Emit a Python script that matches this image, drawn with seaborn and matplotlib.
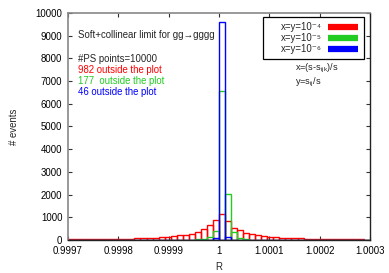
import numpy as np
import pandas as pd
import matplotlib
matplotlib.use("Agg")
import matplotlib.pyplot as plt
import seaborn as sns
from matplotlib.lines import Line2D
from matplotlib.patches import Rectangle

# ---- data ----
bin_lo = 0.9997
bin_width = 1.2e-5
n_bins = 50

red_counts = [25, 30, 30, 35, 35, 40, 40, 45, 50, 55,
              65, 70, 80, 90, 110, 120, 140, 170, 205, 230,
              280, 345, 470, 660, 890, 1145, 840, 550, 440, 320,
              265, 210, 175, 145, 120, 110, 100, 90, 85, 60,
              50, 45, 40, 35, 35, 30, 30, 25, 25, 20]
green_counts = [0, 0, 0, 0, 0, 0, 0, 0, 0, 0,
                0, 0, 0, 0, 0, 5, 5, 5, 10, 10,
                15, 25, 50, 130, 400, 6560, 2030, 340, 80, 40,
                20, 10, 10, 5, 5, 0, 0, 0, 0, 0,
                0, 0, 0, 0, 0, 0, 0, 0, 0, 0]
blue_counts = [0] * 23 + [20, 110, 9600, 120, 20] + [0] * 22

series_labels = ["x=y=10\u207b\u2074", "x=y=10\u207b\u2075", "x=y=10\u207b\u2076"]
outside_texts = ["982 outside the plot", "177  outside the plot", "46 outside the plot"]
xtick_vals = [0.9997, 0.9998, 0.9999, 1.0, 1.0001, 1.0002, 1.0003]
xtick_labels = ["0.9997", "0.9998", "0.9999", "1", "1.0001", "1.0002", "1.0003"]
ytick_vals = list(range(0, 10001, 1000))

colors = ["#ff0000", "#22cc22", "#0000ff"]

edges = [bin_lo + bin_width * k for k in range(n_bins + 1)]
centers = [(edges[k] + edges[k + 1]) / 2 for k in range(n_bins)]

sns.set_style("ticks")
plt.rcParams['font.family'] = ['Liberation Sans', 'DejaVu Sans']
plt.rcParams['mathtext.default'] = 'regular'

fig = plt.figure(figsize=(3.89, 2.73), dpi=100)
ax = fig.add_axes([68/389, 1-240/273, 302/389, 227/273])

for counts, col in zip([red_counts, green_counts, blue_counts], colors):
    df = pd.DataFrame({"R": centers, "w": counts})
    sns.histplot(data=df, x="R", weights="w", bins=edges, element="bars",
                 fill=False, color=col, edgecolor=col, linewidth=1.0, ax=ax)

fs = 6.9
ax.set_xlim(0.9997, 1.0003)
ax.set_ylim(0, 10000)
ax.set_xticks(xtick_vals)
ax.set_xticklabels(xtick_labels)
ax.set_yticks(ytick_vals)
ax.set_yticklabels([str(v) for v in ytick_vals])
ax.tick_params(direction="in", length=3, width=0.8, labelsize=fs, pad=4,
               top=True, right=True, colors="#333333", labelcolor="black")
ax.set_xlabel("R", fontsize=fs, labelpad=5)
ax.set_ylabel("# events", fontsize=fs, labelpad=12)

for side in ["left", "top"]:
    ax.spines[side].set_color("#888888")
    ax.spines[side].set_linewidth(1.2)
for side in ["right", "bottom"]:
    ax.spines[side].set_color("#222222")
    ax.spines[side].set_linewidth(1.0)


def px(x, y):
    return ((x - 68) / 302, (240 - y) / 227)


ax.text(*px(78, 35), "Soft+collinear limit for gg\u2192gggg", transform=ax.transAxes,
        fontsize=fs, va="center", ha="left")
ax.text(*px(78, 59), "#PS points=10000", transform=ax.transAxes,
        fontsize=fs, va="center", ha="left")
for i, (t, c) in enumerate(zip(outside_texts, colors)):
    ax.text(*px(78, 70 + 11 * i), t, transform=ax.transAxes, color=c,
            fontsize=fs, va="center", ha="left")
ax.text(*px(295, 68), "x=(s-s$_{ijk}$)/s", transform=ax.transAxes,
        fontsize=6.6, va="center", ha="left")
ax.text(*px(295, 82), "y=s$_{ij}$/s", transform=ax.transAxes,
        fontsize=6.6, va="center", ha="left")

# legend box (gnuplot style key)
x0, y0 = px(263, 59)
x1, y1 = px(364, 17)
ax.add_patch(Rectangle((x0, y0), x1 - x0, y1 - y0, transform=ax.transAxes,
                       facecolor="white", edgecolor="black", linewidth=0.9, zorder=5))
for i, (lab, c) in enumerate(zip(series_labels, colors)):
    yrow = 27 + 11 * i
    ax.text(*px(322, yrow), lab, transform=ax.transAxes, fontsize=6.9,
            ha="right", va="center", zorder=6)
    la, lb = px(328, yrow), px(358, yrow)
    ax.add_line(Line2D([la[0], lb[0]], [la[1], lb[1]], transform=ax.transAxes,
                       color=c, lw=4.5, solid_capstyle="butt", zorder=6))

fig.savefig("out.png", dpi=100)
